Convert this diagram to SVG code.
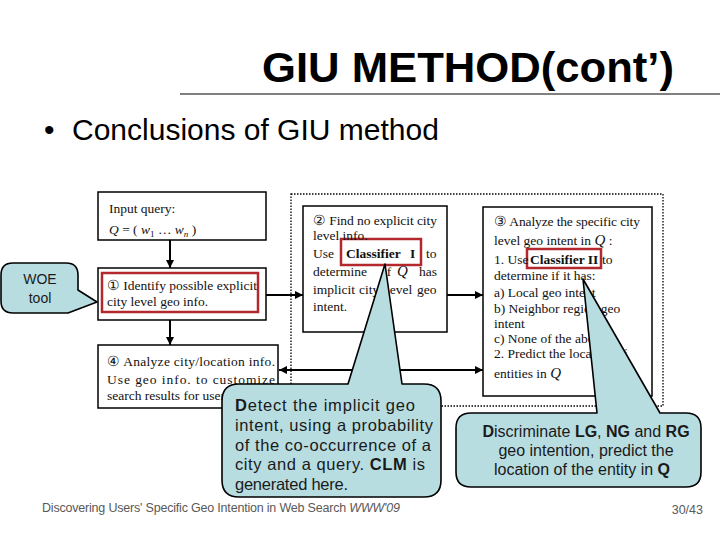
<svg xmlns="http://www.w3.org/2000/svg" width="720" height="540" viewBox="0 0 720 540">
<defs>
<marker id="ah" viewBox="0 0 10 10" refX="10" refY="5" markerWidth="8" markerHeight="8" markerUnits="userSpaceOnUse" orient="auto-start-reverse">
<path d="M0,0 L10,5 L0,10 Z" fill="#000"/>
</marker>
<style>
.sans{font-family:"Liberation Sans",Arial,sans-serif;}
.serif{font-family:"Liberation Serif","Times New Roman",serif;font-size:13.5px;fill:#111;}
.box{fill:#fff;stroke:#000;stroke-width:1.5;}
.red{fill:none;stroke:#b3282d;stroke-width:2.5;}
.conn{fill:none;stroke:#000;stroke-width:2;}
.call{fill:#b8dde1;stroke:#000;stroke-width:1.6;stroke-linejoin:round;}
.ctext{font-family:"Liberation Sans",Arial,sans-serif;fill:#1a1a1a;}
</style>
</defs>
<rect width="720" height="540" fill="#fff"/>

<g id="title">
<text class="sans" x="468" y="82" font-size="42" font-weight="bold" text-anchor="middle" textLength="412" lengthAdjust="spacingAndGlyphs">GIU METHOD(cont’)</text>
<line x1="180" y1="94" x2="720" y2="94" stroke="#808080" stroke-width="2"/>
</g>

<g id="bullet">
<text class="sans" x="44" y="140" font-size="30">•</text>
<text class="sans" x="72" y="140" font-size="30">Conclusions of GIU method</text>
</g>

<g id="dotted-region">
<rect x="291" y="194" width="372" height="212" fill="none" stroke="#000" stroke-width="1.3" stroke-dasharray="1.5 1.5"/>
</g>

<g id="node-input">
<rect class="box" x="98" y="192" width="168" height="48"/>
<text class="serif" x="109" y="213">Input query:</text>
<text class="serif" x="109" y="234" font-size="17"><tspan font-style="italic">Q</tspan> = ( <tspan font-style="italic">w</tspan><tspan font-size="9" dy="3">1</tspan><tspan dy="-3"> … </tspan><tspan font-style="italic">w</tspan><tspan font-size="9" dy="3" font-style="italic">n</tspan><tspan dy="-3"> )</tspan></text>
</g>

<g id="node-1">
<rect class="box" x="98" y="268" width="168" height="52"/>
<rect class="red" x="102" y="273" width="156" height="39"/>
<text class="serif" x="107" y="290" textLength="150" lengthAdjust="spacing">① Identify possible explicit</text>
<text class="serif" x="107" y="306">city level geo info.</text>
</g>

<g id="node-2">
<rect class="box" x="303" y="206" width="144" height="126"/>
<rect class="red" x="341" y="239" width="80" height="26"/>
<text class="serif" x="313" y="225" textLength="124" lengthAdjust="spacing">② Find no explicit city</text>
<text class="serif" x="313" y="240">level info.</text>
<text class="serif" y="258"><tspan x="313">Use</tspan><tspan x="346" font-weight="bold">Classifier</tspan><tspan x="410" font-weight="bold">I</tspan><tspan x="426">to</tspan></text>
<text class="serif" y="276"><tspan x="313">determine</tspan><tspan x="383">if</tspan><tspan x="397" font-style="italic" font-size="15">Q</tspan><tspan x="419">has</tspan></text>
<text class="serif" y="294"><tspan x="313">implicit</tspan><tspan x="359">city</tspan><tspan x="386">level</tspan><tspan x="417">geo</tspan></text>
<text class="serif" x="313" y="311">intent.</text>
</g>

<g id="node-3">
<rect class="box" x="483" y="207" width="169" height="189"/>
<rect class="red" x="527" y="249" width="74" height="19"/>
<text class="serif" x="494" y="226" textLength="146" lengthAdjust="spacing">③ Analyze the specific city</text>
<text class="serif" x="494" y="245">level geo intent in <tspan font-style="italic" font-size="15">Q</tspan> :</text>
<text class="serif" y="264"><tspan x="494">1. Use</tspan><tspan x="530" font-weight="bold">Classifier II</tspan><tspan x="602">to</tspan></text>
<text class="serif" x="494" y="280">determine if it has:</text>
<text class="serif" x="494" y="297">a) Local geo intent</text>
<text class="serif" x="494" y="313">b) Neighbor region geo</text>
<text class="serif" x="494" y="328">intent</text>
<text class="serif" x="494" y="343">c) None of the above</text>
<text class="serif" x="494" y="358">2. Predict the location of</text>
<text class="serif" x="494" y="378">entities in <tspan font-style="italic" font-size="15">Q</tspan></text>
</g>

<g id="node-4">
<rect class="box" x="98" y="345" width="180" height="63"/>
<text class="serif" x="107" y="366" textLength="168" lengthAdjust="spacing">④ Analyze city/location info.</text>
<text class="serif" x="107" y="384" textLength="168" lengthAdjust="spacing">Use geo info. to customize</text>
<text class="serif" x="107" y="400">search results for users</text>
</g>

<g id="connectors">
<line class="conn" x1="170" y1="240" x2="170" y2="268" marker-end="url(#ah)"/>
<line class="conn" x1="170" y1="320" x2="170" y2="345" marker-end="url(#ah)"/>
<line class="conn" x1="266" y1="295" x2="303" y2="295" marker-end="url(#ah)"/>
<line class="conn" x1="447" y1="295" x2="483" y2="295" marker-end="url(#ah)"/>
<line class="conn" x1="279" y1="370" x2="483" y2="370" marker-start="url(#ah)" marker-end="url(#ah)"/>
</g>

<g id="callout-woe">
<path class="call" d="M13,263 L66,263 Q78,263 78,275 L78,290 L97,302 L68,313 L13,313 Q1,313 1,301 L1,275 Q1,263 13,263 Z"/>
<text class="ctext" x="40" y="284" font-size="14" text-anchor="middle">WOE</text>
<text class="ctext" x="40" y="303" font-size="14" text-anchor="middle">tool</text>
</g>

<g id="callout-detect">
<path class="call" d="M239,384 L348,384 L385,264 L402,384 L424,384 Q441,384 441,401 L441,480 Q441,497 424,497 L239,497 Q222,497 222,480 L222,401 Q222,384 239,384 Z"/>
<text class="ctext" x="235" y="411" font-size="16.5" textLength="180" lengthAdjust="spacing"><tspan font-weight="bold">D</tspan>etect the implicit geo</text>
<text class="ctext" x="235" y="431" font-size="16.5" textLength="198" lengthAdjust="spacing">intent, using a probability</text>
<text class="ctext" x="235" y="451" font-size="16.5" textLength="196" lengthAdjust="spacing">of the co-occurrence of a</text>
<text class="ctext" x="235" y="470" font-size="16.5" textLength="190" lengthAdjust="spacing">city and a query. <tspan font-weight="bold">CLM</tspan> is</text>
<text class="ctext" x="235" y="490" font-size="16.5" textLength="113" lengthAdjust="spacing">generated here.</text>
</g>

<g id="callout-discriminate">
<path class="call" d="M471,413 L597,413 L583,279 L660,413 L686,413 Q701,413 701,428 L701,472 Q701,487 686,487 L471,487 Q456,487 456,472 L456,428 Q456,413 471,413 Z"/>
<text class="ctext" x="586" y="437" font-size="16" text-anchor="middle"><tspan font-weight="bold">D</tspan>iscriminate <tspan font-weight="bold">LG</tspan>, <tspan font-weight="bold">NG</tspan> and <tspan font-weight="bold">RG</tspan></text>
<text class="ctext" x="586" y="456" font-size="16" text-anchor="middle">geo intention, predict the</text>
<text class="ctext" x="582" y="475" font-size="16" text-anchor="middle">location of the entity in <tspan font-weight="bold">Q</tspan></text>
</g>

<g id="footer">
<text class="sans" x="42" y="512" font-size="12.5" fill="#595959" textLength="358" lengthAdjust="spacing">Discovering Users' Specific Geo Intention in Web Search <tspan font-style="italic">WWW'09</tspan></text>
<text class="sans" x="703" y="514" font-size="12.5" fill="#595959" text-anchor="end">30/43</text>
</g>
</svg>
